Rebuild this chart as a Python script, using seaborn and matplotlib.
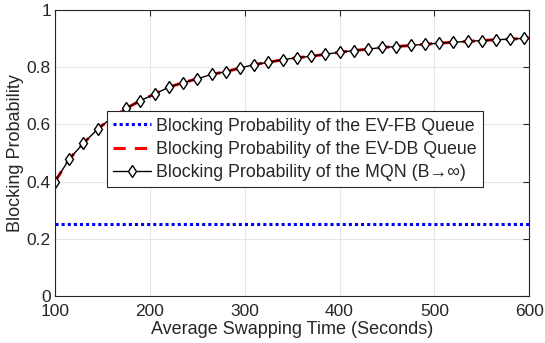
import matplotlib
matplotlib.use("Agg")
import matplotlib.pyplot as plt
import seaborn as sns
import pandas as pd

# ---- data ----
swap_time = [100, 115, 130, 145, 160, 175, 190, 205, 220, 235, 250, 265,
             280, 295, 310, 325, 340, 355, 370, 385, 400, 415, 430, 445,
             460, 475, 490, 505, 520, 535, 550, 565, 580, 595]
mqn_prob = [0.400, 0.479, 0.534, 0.584, 0.623, 0.656, 0.683, 0.706, 0.730,
            0.746, 0.759, 0.775, 0.784, 0.797, 0.809, 0.817, 0.826, 0.833,
            0.838, 0.845, 0.852, 0.858, 0.863, 0.869, 0.872, 0.876, 0.880,
            0.884, 0.887, 0.890, 0.893, 0.896, 0.898, 0.901]
db_time = swap_time + [600]
db_prob = mqn_prob + [0.902]
fb_time = [100, 600]
fb_prob = [0.25, 0.25]

labels = ["Blocking Probability of the EV-FB Queue",
          "Blocking Probability of the EV-DB Queue",
          "Blocking Probability of the MQN (B\u2192\u221e)"]
x_ticks = [100, 200, 300, 400, 500, 600]
y_ticks = [0, 0.2, 0.4, 0.6, 0.8, 1.0]
y_ticklabels = ["0", "0.2", "0.4", "0.6", "0.8", "1"]

sns.set_theme(style="white")
plt.rcParams["font.family"] = ["Liberation Sans", "DejaVu Sans"]
plt.rcParams["xtick.direction"] = "in"
plt.rcParams["ytick.direction"] = "in"

fig = plt.figure(figsize=(5.45, 3.43), dpi=100)
ax = fig.add_axes([0.101, 0.137, 0.870, 0.834])

fb = pd.DataFrame({"x": fb_time, "y": fb_prob})
db = pd.DataFrame({"x": db_time, "y": db_prob})
mq = pd.DataFrame({"x": swap_time, "y": mqn_prob})

sns.lineplot(data=fb, x="x", y="y", ax=ax, color="#0000ff", lw=2.2,
             linestyle=(0, (1, 1)), label=labels[0])
sns.lineplot(data=db, x="x", y="y", ax=ax, color="#ff0000", lw=2.2,
             linestyle=(0, (4, 3)), label=labels[1])
sns.lineplot(data=mq, x="x", y="y", ax=ax, color="black", lw=1.0,
             marker="d", markersize=6, markerfacecolor="white",
             markeredgecolor="black", markeredgewidth=1.0, label=labels[2])

ax.set_xlim(100, 600)
ax.set_ylim(0, 1)
ax.set_xticks(x_ticks)
ax.set_yticks(y_ticks)
ax.set_yticklabels(y_ticklabels)
ax.tick_params(axis="both", labelsize=12.5, colors="#262626", length=4,
               width=0.8, top=True, right=True)
ax.tick_params(axis="x", pad=5.5)
ax.tick_params(axis="y", pad=3)
ax.grid(True, color="#e6e6e6", lw=0.8)
ax.set_axisbelow(True)
for s in ax.spines.values():
    s.set_color("#262626")
    s.set_linewidth(0.8)
    s.set_visible(True)

ax.set_xlabel("Average Swapping Time (Seconds)", fontsize=13,
              color="#262626", labelpad=2)
ax.set_ylabel("Blocking Probability", fontsize=13, color="#262626",
              labelpad=2)

leg = ax.legend(loc="upper left", bbox_to_anchor=(0.11, 0.645),
                fontsize=12.8, frameon=True, fancybox=False, framealpha=1,
                edgecolor="#262626", handlelength=2.1, handletextpad=0.3,
                borderpad=0.35, labelspacing=0.35, borderaxespad=0)
leg.get_frame().set_linewidth(0.8)

fig.savefig("out.png", dpi=100)
